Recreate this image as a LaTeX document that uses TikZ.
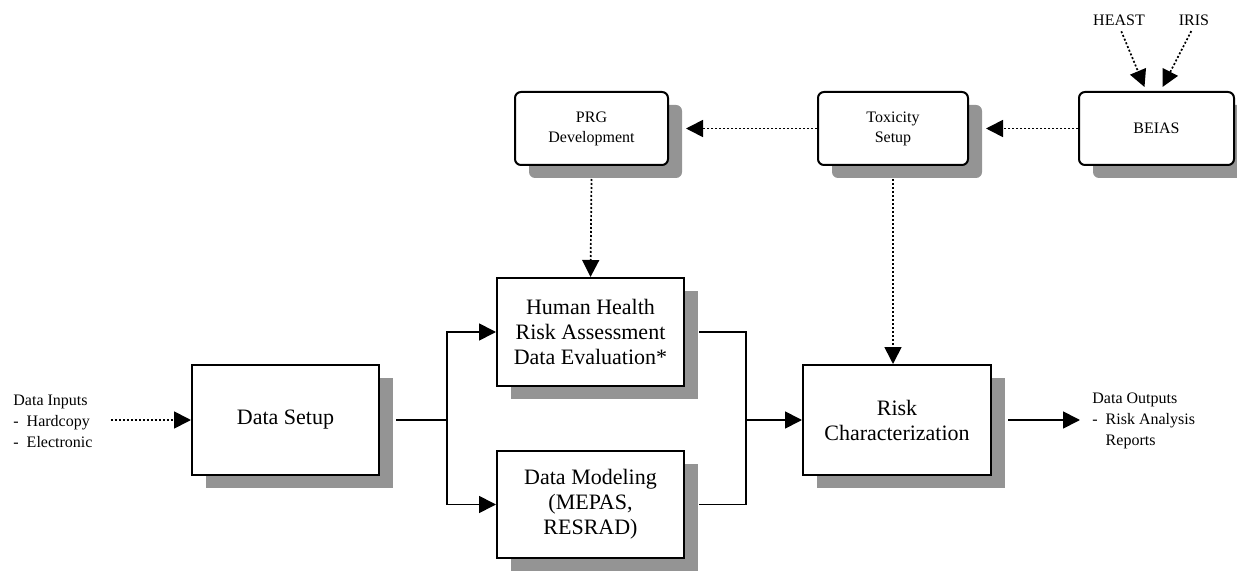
\documentclass[tikz,border=0pt]{standalone}
\usepackage{fontspec}
\setmainfont{Liberation Serif}
\usetikzlibrary{arrows.meta,shadows}

\begin{document}
\begin{tikzpicture}[x=0.5pt,y=-0.5pt,>={Triangle[length=8.5pt,width=8.5pt]}]

\tikzset{%
process box/.style={
rectangle,
draw,
line width=1pt,
fill=white,
align=center,
font=\fontsize{11}{12.5}\selectfont,
drop shadow={shadow xshift=7pt,shadow yshift=-6.5pt,fill=black!42,opacity=1}
},
tool box/.style={
process box,
rounded corners=3pt,
font=\fontsize{8}{10}\selectfont,
minimum height=36.5pt
},
small text/.style={
align=left,
inner sep=0pt,
font=\fontsize{8}{10.5}\selectfont
},
flow line/.style={line width=0.85pt},
data link/.style={line width=0.85pt,dash pattern=on 1pt off 1pt},
}

\useasboundingbox (0,0) rectangle (1237,572);

% Main processing boxes
\node [process box, minimum width=93.5pt, minimum height=55pt] (setup) at (285.5,420) {Data Setup};
\node [process box, minimum width=93.5pt, minimum height=54pt] (health) at (590.5,332) {Human Health\\Risk Assessment\\Data Evaluation*};
\node [process box, minimum width=93.5pt, minimum height=53.5pt] (model) at (590.5,504.5) {Data Modeling\\(MEPAS,\\RESRAD)};
\node [process box, minimum width=94pt, minimum height=55pt] (riskchar) at (897,420) {Risk\\Characterization};

% Toxicity boxes along the top
\node [tool box, minimum width=76.5pt] (prg) at (591.5,128.5) {PRG\\Development};
\node [tool box, minimum width=75pt] (toxicity) at (893,128.5) {Toxicity\\Setup};
\node [tool box, minimum width=77.5pt] (beias) at (1156.5,128.5) {BEIAS};

% Sources and in/out texts
\node [small text] (heast) at (1119,20) {HEAST};
\node [small text] (iris) at (1194,20) {IRIS};
\node [small text, anchor=west] (inputs) at (13,421) {Data Inputs\\-~~Hardcopy\\-~~Electronic};
\node [small text, anchor=west] (outputs) at (1092,421) {Data Outputs\\-~~Risk Analysis\\\phantom{-~~}Reports};

% Split and join points
\coordinate (split) at (447,420);
\coordinate (join) at (746,420);

% Solid flow
\draw [data link, ->, shorten <=9pt] (inputs.east |- setup.west) -- (setup.west);
\draw [flow line] ([xshift=8pt]setup.east) -- (split);
\foreach \b in {health,model}
\draw [flow line, ->] (split) |- (\b.west);
\draw [flow line] ([xshift=7pt]health.east) -| (join) |- ([xshift=7pt]model.east);
\draw [flow line, ->] (join) -- (riskchar.west);
\draw [flow line, ->, shorten >=6pt] ([xshift=8pt]riskchar.east) -- (riskchar.east -| outputs.west);

% Dotted links
\draw [data link, ->] (toxicity.west) -- ([xshift=8.5pt]prg.east);
\draw [data link, ->] (beias.west) -- ([xshift=8.5pt]toxicity.east);
\draw [data link, ->] ([yshift=-6.5pt]prg.south) -- (health.north);
\draw [data link, ->] ([yshift=-6.5pt]toxicity.south) -- (toxicity.south |- riskchar.north);
\draw [data link, ->, shorten <=3pt] (heast.south) -- ([xshift=-6pt,yshift=2pt]beias.north);
\draw [data link, ->, shorten <=3pt] (iris.south) -- ([xshift=3pt,yshift=2pt]beias.north);

\end{tikzpicture}
\end{document}
